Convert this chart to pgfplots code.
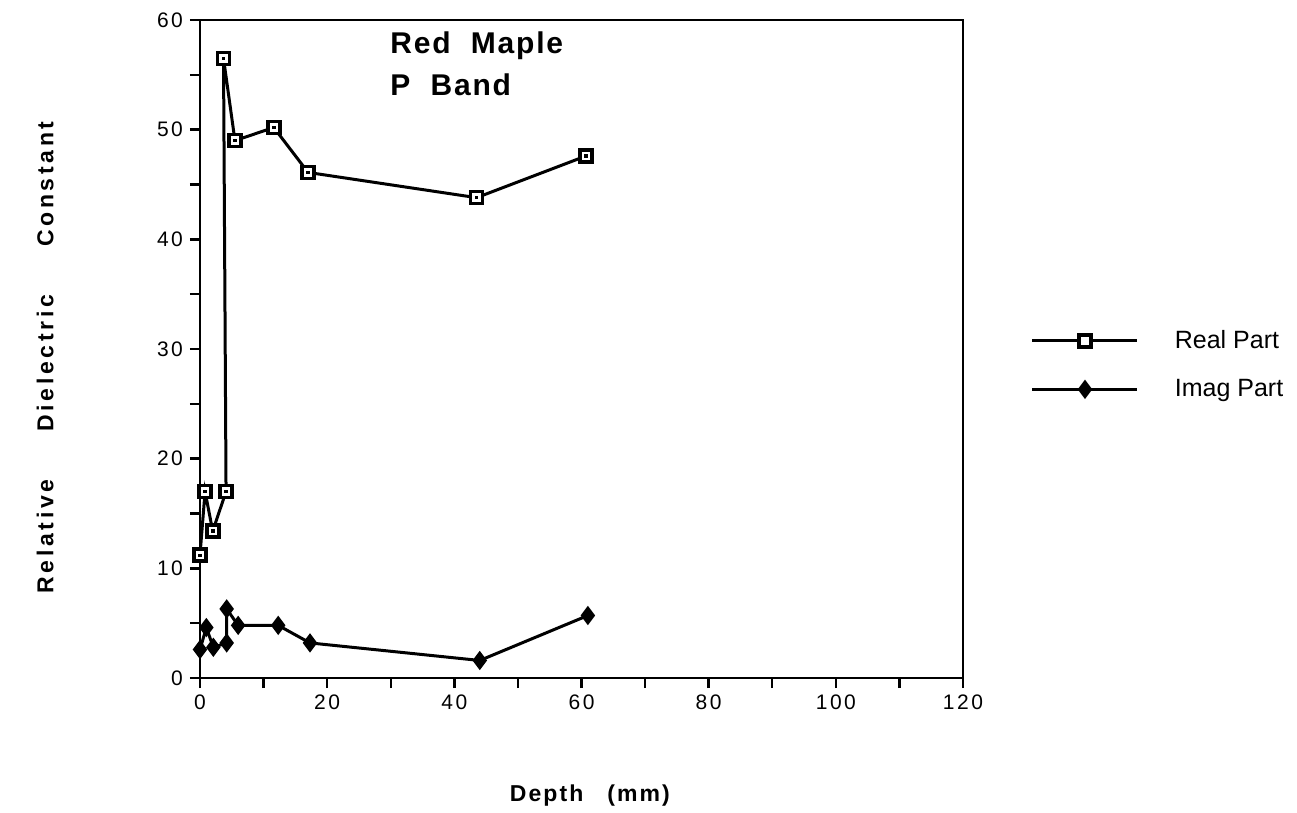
\documentclass[border=0pt]{standalone}
\usepackage{fontspec}
\setmainfont{Liberation Sans}
\newfontfamily\tickfont[LetterSpace=12]{Liberation Sans}
\newfontfamily\ylabfont[LetterSpace=16]{Liberation Sans Bold}
\newfontfamily\xlabfont[LetterSpace=9]{Liberation Sans Bold}
\newfontfamily\titlefont[LetterSpace=6]{Liberation Sans Bold}
\usepackage{pgfplots}
\pgfplotsset{compat=1.18}

\begin{document}
\begin{tikzpicture}
  \begin{axis}[
    scale only axis,
    width=381.5pt, height=329pt,
    xmin=0, xmax=120, ymin=0, ymax=60,
    xtick={0,20,...,120}, ytick={0,10,...,60},
    minor x tick num=1, minor y tick num=1,
    tick align=outside, tick pos=left,
    major tick length=5pt, minor tick length=5pt,
    axis line style={line width=1.4pt},
    every tick/.style={black, line width=1.2pt},
    tick label style={font=\tickfont\fontsize{10.5}{12}\selectfont},
    /pgf/number format/assume math mode=true,
    xlabel={Depth\hspace{12pt}(mm)},
    xlabel style={at={(rel axis cs:0.511,-0.178)}, anchor=center, font=\xlabfont\fontsize{11.5}{13}\selectfont},
    ylabel={Relative\hspace{24pt}Dielectric\hspace{24pt}Constant},
    ylabel style={at={(rel axis cs:-0.203,0.487)}, anchor=center, font=\ylabfont\fontsize{11.5}{13}\selectfont},
    legend style={at={(rel axis cs:1.088,0.476)}, anchor=west, draw=none, fill=none,
      font=\fontsize{12.5}{14}\selectfont, row sep=10pt, inner sep=0pt},
    legend cell align=left,
    legend image code/.code={
      \draw[mark repeat=2, mark phase=2] plot coordinates {(0cm,0cm) (0.93cm,0cm) (1.85cm,0cm)};
    },
    clip=false,
  ]
    % real part
    \addplot[black, line width=1.5pt, mark=square*,
      mark options={fill=white, line width=1.8pt, solid}, mark size=3pt]
      coordinates {
        (0.0,11.2) (0.8,17.0) (2.0,13.4) (4.1,17.0) (3.7,56.5) (5.5,49.0)
        (11.6,50.2) (17.0,46.1) (43.5,43.8) (60.7,47.6)
      };
    \addlegendentry{\hspace{16pt}Real Part}
    % imaginary part
    \addplot[black, line width=1.5pt, mark=diamond*,
      mark options={solid}, mark size=3.6pt]
      coordinates {
        (0.0,2.6) (1.0,4.6) (2.1,2.8) (4.2,3.2) (4.2,6.3) (6.0,4.8)
        (12.3,4.8) (17.3,3.2) (44.0,1.6) (61.0,5.7)
      };
    \addlegendentry{\hspace{16pt}Imag Part}
    % dots in the open squares
    \addplot[only marks, black, mark=square*, mark size=0.6pt, forget plot]
      coordinates {
        (0.0,11.2) (0.8,17.0) (2.0,13.4) (4.1,17.0) (3.7,56.5) (5.5,49.0)
        (11.6,50.2) (17.0,46.1) (43.5,43.8) (60.7,47.6)
      };
    \node[anchor=north west, align=left, inner sep=0pt, font=\titlefont\fontsize{15}{21}\selectfont]
      at (rel axis cs:0.249,0.982) {Red\ \ Maple\\P\ \ Band};
    \path[use as bounding box] (rel axis cs:-0.2621,-0.2021) rectangle (rel axis cs:1.4377,1.0304);
  \end{axis}
\end{tikzpicture}
\end{document}
